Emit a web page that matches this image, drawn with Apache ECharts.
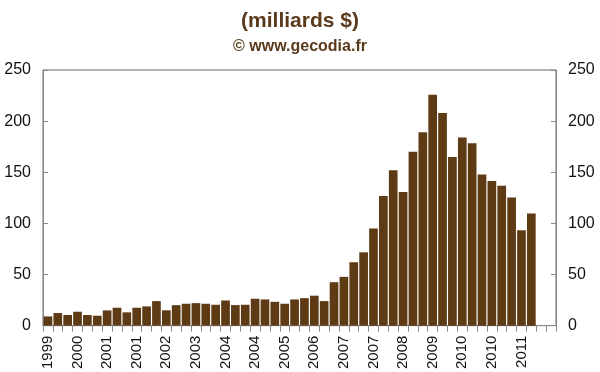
<!DOCTYPE html>
<html>
<head>
<meta charset="utf-8">
<script src="https://cdn.jsdelivr.net/npm/echarts@6/dist/echarts.min.js"></script>
<style>html,body{margin:0;padding:0;background:#fff}#c{width:600px;height:372px}</style>
</head>
<body>
<div id="c"></div>
<script>
// Category (quarter) labels; only every 3rd is displayed, as in the reference
var categories = [
  '1999','1999','1999','2000','2000','2000','2001','2001','2001','2001','2002','2002',
  '2002','2002','2003','2003','2003','2003','2004','2004','2004','2004','2005','2005',
  '2005','2005','2006','2006','2006','2006','2007','2007','2007','2007','2008','2008',
  '2008','2008','2009','2009','2009','2009','2010','2010','2010','2010','2011','2011',
  '2011','2011','2011','2011'
];
var tickLabels = ['1999','2000','2001','2001','2002','2003','2004','2004','2005','2006','2007','2007','2008','2009','2010','2010','2011'];
for (var i = 0; i < tickLabels.length; i++) categories[i * 3] = tickLabels[i];

var values = [
  9, 12.3, 10.4, 13.6, 10.4, 9.7, 14.9, 17.5, 13, 17.5, 18.8, 24,
  15, 20, 21.4, 22, 21.4, 20.4, 24.6, 20.1, 20.4, 26.3, 25.6, 23.3,
  21.4, 25.6, 26.9, 29.3, 24, 42.5, 47.7, 62, 71.7, 95, 126.8, 152,
  130.7, 170, 189, 225.7, 208, 165, 184, 178.3, 147.9, 141.4, 136.8, 125.2,
  93.4, 109.6, null, null
];
var yTicks = { min: 0, max: 250, interval: 50 };

var chart = echarts.init(document.getElementById('c'), null, { renderer: 'canvas' });
var yAxisCommon = {
  type: 'value', min: yTicks.min, max: yTicks.max, interval: yTicks.interval,
  splitLine: { show: false },
  axisLine: { show: true, lineStyle: { color: '#888', width: 1 } },
  axisTick: { show: true, inside: true, length: 5, lineStyle: { color: '#888' } },
  axisLabel: { color: '#111', fontFamily: 'Liberation Sans, Arial', fontSize: 16, margin: 12 }
};
chart.setOption({
  backgroundColor: '#ffffff',
  animation: false,
  title: [
    { text: '(milliards $)', left: 'center', top: 6,
      textStyle: { color: '#5a3a1c', fontFamily: 'Liberation Sans, Arial', fontWeight: 'bold', fontSize: 21 } },
    { text: '© www.gecodia.fr', left: 'center', top: 34,
      textStyle: { color: '#5a3a1c', fontFamily: 'Liberation Sans, Arial', fontWeight: 'bold', fontSize: 16 } }
  ],
  grid: { left: 43, right: 44, top: 70, bottom: 45, show: true, borderColor: '#666', borderWidth: 1, backgroundColor: 'transparent' },
  xAxis: {
    type: 'category', data: categories, boundaryGap: true,
    axisLine: { show: true, lineStyle: { color: '#888' } },
    axisTick: { show: true, interval: 0, length: 6, lineStyle: { color: '#888' } },
    axisLabel: {
      interval: function (idx) { return idx % 3 === 0 && idx <= 48; },
      rotate: 90, color: '#111', fontFamily: 'Liberation Sans, Arial', fontSize: 15, margin: 10
    }
  },
  yAxis: [
    Object.assign({}, yAxisCommon, { position: 'left' }),
    Object.assign({}, yAxisCommon, { position: 'right' })
  ],
  series: [{
    type: 'bar', data: values, barCategoryGap: '12%',
    itemStyle: { color: '#5e3a15' }
  }]
});
</script>
</body>
</html>
